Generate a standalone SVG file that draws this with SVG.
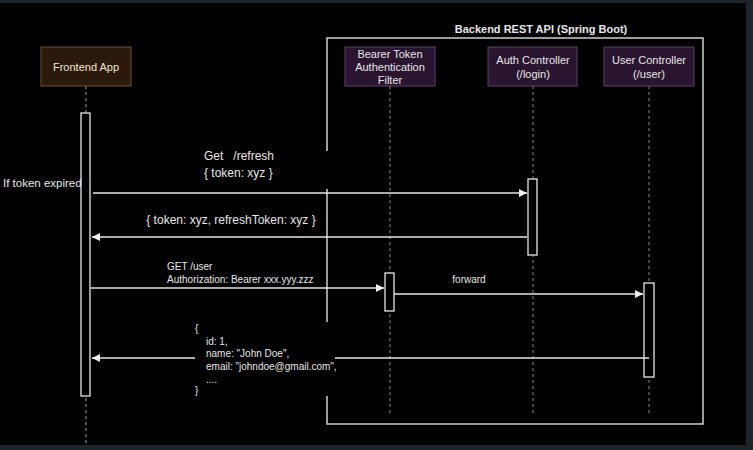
<svg xmlns="http://www.w3.org/2000/svg" width="753" height="450" viewBox="0 0 753 450">
<style>
text{font-family:"Liberation Sans",Arial,sans-serif;fill:#e6e6e6}
.t12{font-size:12px}
.t10{font-size:10px}
.life{stroke:#8a7a90;stroke-width:1;stroke-dasharray:3,3;fill:none}
.act{fill:#000;stroke:#e6e6e6;stroke-width:1.3}
.msg{stroke:#e6e6e6;stroke-width:1.3;fill:none}
.lblbg{fill:#000}
</style>
<defs>
<marker id="ah" viewBox="0 0 10 10" refX="10" refY="5" markerWidth="8" markerHeight="8" markerUnits="userSpaceOnUse" orient="auto">
<path d="M0,0 L10,5 L0,10 z" fill="#f0f0f0"/>
</marker>
</defs>
<rect width="753" height="450" fill="#000"/>
<rect x="0" y="0" width="753" height="3" fill="#1d252b"/>
<rect x="746" y="0" width="7" height="450" fill="#1d252b"/>
<rect x="0" y="445" width="753" height="5" fill="#1d252b"/>

<g id="frame">
<rect x="327" y="38" width="376" height="386" fill="none" stroke="#cfcfcf" stroke-width="1.5"/>
<text x="541" y="33" text-anchor="middle" style="font-size:11px;font-weight:bold">Backend REST API (Spring Boot)</text>
</g>

<g id="lifelines">
<line class="life" x1="86" y1="86" x2="86" y2="443" style="stroke:#9a9a9a"/>
<line class="life" x1="390" y1="86" x2="390" y2="415"/>
<line class="life" x1="533" y1="86" x2="533" y2="415"/>
<line class="life" x1="649" y1="86" x2="649" y2="415"/>
</g>

<g id="frontend">
<rect x="41" y="47" width="90" height="39" fill="#2b1a0b" stroke="#6e4e30" stroke-width="1"/>
<text x="86" y="71" text-anchor="middle" style="font-size:11px;fill:#efe3cf">Frontend App</text>
<rect class="act" x="81" y="113" width="9" height="283"/>
</g>

<g id="bearer">
<rect x="345" y="47" width="90" height="39" fill="#2a1530" stroke="#5e3e66" stroke-width="1"/>
<text x="390" y="58" text-anchor="middle" style="font-size:11px">Bearer Token</text>
<text x="390" y="71" text-anchor="middle" style="font-size:11px">Authentication</text>
<text x="390" y="84" text-anchor="middle" style="font-size:11px">Filter</text>
<rect class="act" x="385" y="273" width="9" height="38"/>
</g>

<g id="auth">
<rect x="488" y="47" width="89" height="39" fill="#2a1530" stroke="#5e3e66" stroke-width="1"/>
<text x="533" y="64" text-anchor="middle" style="font-size:11px">Auth Controller</text>
<text x="533" y="78" text-anchor="middle" style="font-size:11px">(/login)</text>
<rect class="act" x="528" y="179" width="9" height="76"/>
</g>

<g id="user">
<rect x="604" y="47" width="90" height="39" fill="#2a1530" stroke="#5e3e66" stroke-width="1"/>
<text x="649" y="64" text-anchor="middle" style="font-size:11px">User Controller</text>
<text x="649" y="78" text-anchor="middle" style="font-size:11px">(/user)</text>
<rect class="act" x="644" y="283" width="10" height="94"/>
</g>

<g id="connectors">
<text x="3" y="187" style="font-size:11.5px">If token expired</text>

<rect class="lblbg" x="160" y="151" width="175" height="38"/>
<line class="msg" x1="93" y1="193" x2="527" y2="193" marker-end="url(#ah)"/>
<text x="204" y="160" class="t12" style="white-space:pre">Get   /refresh</text>
<text x="204" y="177" class="t12">{ token: xyz }</text>

<line class="msg" x1="527" y1="237" x2="92" y2="237" marker-end="url(#ah)"/>
<text x="231" y="224" text-anchor="middle" class="t12">{ token: xyz, refreshToken: xyz }</text>

<line class="msg" x1="91" y1="288" x2="384" y2="288" marker-end="url(#ah)"/>
<text x="167" y="270" class="t10">GET /user</text>
<text x="167" y="283" class="t10">Authorization: Bearer xxx.yyy.zzz</text>

<line class="msg" x1="394" y1="294" x2="643" y2="294" marker-end="url(#ah)"/>
<text x="469" y="283" text-anchor="middle" class="t10">forward</text>

<line class="msg" x1="649" y1="358" x2="92" y2="358" marker-end="url(#ah)"/>
<rect class="lblbg" x="195" y="322" width="140" height="74"/>
<text x="195" y="332" class="t10">{</text>
<text x="206" y="345" class="t10">id: 1,</text>
<text x="206" y="357" class="t10">name: "John Doe",</text>
<text x="206" y="370" class="t10">email: "johndoe@gmail.com",</text>
<text x="206" y="383" class="t10">....</text>
<text x="195" y="394" class="t10">}</text>
</g>
</svg>
